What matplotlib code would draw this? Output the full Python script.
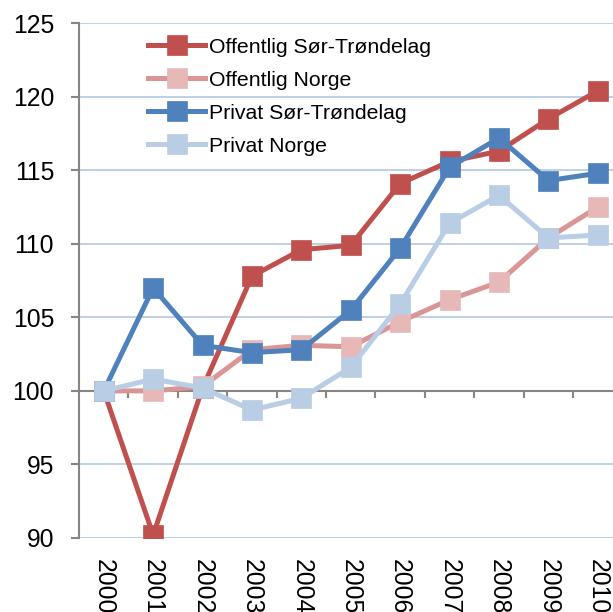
import matplotlib.pyplot as plt
import numpy as np

plt.rcParams['font.family'] = ['Liberation Sans', 'DejaVu Sans']

years = ['2000', '2001', '2002', '2003', '2004', '2005',
         '2006', '2007', '2008', '2009', '2010']
off_st = [100.0, 90.2, 100.2, 107.8, 109.6, 109.9, 114.1, 115.6, 116.3, 118.5, 120.4]
off_no = [100.0, 100.0, 100.3, 102.8, 103.1, 103.0, 104.7, 106.2, 107.4, 110.4, 112.5]
priv_st = [100.0, 107.0, 103.1, 102.6, 102.8, 105.5, 109.7, 115.2, 117.2, 114.3, 114.8]
priv_no = [100.0, 100.8, 100.2, 98.7, 99.5, 101.6, 105.9, 111.4, 113.3, 110.4, 110.6]

series = [
    ('Offentlig Sør-Trøndelag', off_st, '#C0504D', '#C0504D'),
    ('Offentlig Norge', off_no, '#D99694', '#E6B9B8'),
    ('Privat Sør-Trøndelag', priv_st, '#4F81BD', '#4F81BD'),
    ('Privat Norge', priv_no, '#B9CDE5', '#B9CDE5'),
]

fig = plt.figure(figsize=(6.13, 6.12), dpi=100)
ax = fig.add_axes([0.129, 0.121, 0.8865, 0.841])

x = np.arange(len(years))
for label, vals, lc, mc in series:
    ax.plot(x, vals, color=lc, lw=3.6, marker='s', ms=14.5,
            mfc=mc, mec=mc, mew=0.5, label=label, zorder=3)

ax.set_xlim(-0.5, len(years) - 0.5)
ax.set_ylim(90, 125)
ax.set_yticks(np.arange(90, 126, 5))
ax.yaxis.grid(True, color='#B9CDE5', lw=1.3)
ax.set_axisbelow(True)

for s in ['top', 'right']:
    ax.spines[s].set_visible(False)
ax.spines['left'].set_color('#868686')
ax.spines['left'].set_linewidth(1.5)
ax.spines['bottom'].set_position(('data', 100))
ax.spines['bottom'].set_color('#868686')
ax.spines['bottom'].set_linewidth(1.5)

ax.tick_params(axis='y', labelsize=17.8, length=6, width=1.5,
               color='#868686', pad=12)
ax.set_xticks(x)
ax.set_xticklabels([])
ax.tick_params(axis='x', which='major', length=0)
ax.set_xticks(np.arange(0.5, len(years) - 1, 1), minor=True)
ax.tick_params(axis='x', which='minor', length=5, width=1.5,
               color='#868686', direction='out')

sec = ax.secondary_xaxis('bottom')
sec.set_xticks(x)
sec.set_xticklabels(years, rotation=270, fontsize=17.8)
sec.tick_params(length=0, pad=15)
sec.spines['bottom'].set_visible(False)

ax.legend(loc='upper left', bbox_to_anchor=(0.127, 0.972), frameon=False,
          fontsize=15.3, handlelength=2.7, handletextpad=0.15,
          labelspacing=0.66, borderpad=0, borderaxespad=0)

fig.savefig('out.png', dpi=100)
